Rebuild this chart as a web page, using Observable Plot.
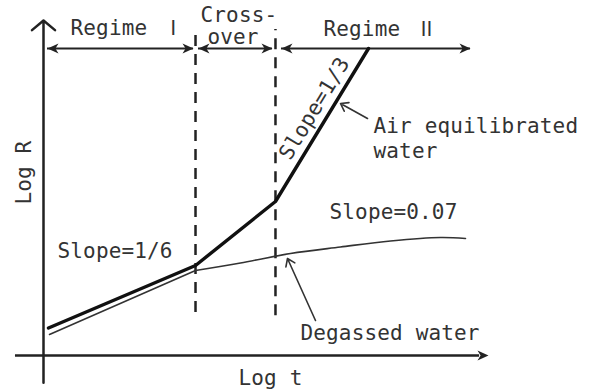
<!DOCTYPE html>
<html><head><meta charset="utf-8">
<script src="https://cdn.jsdelivr.net/npm/d3@7"></script>
<script src="https://cdn.jsdelivr.net/npm/@observablehq/plot@0.6"></script>
<style>html,body{margin:0;padding:0;background:#fff;}</style>
</head><body><div id="chart"></div>
<script>
// Air equilibrated water (log t, log R), arbitrary units 0..100
const airT = [1.12, 34.16, 52.13, 73.03];
const airR = [8.21, 26.87, 45.97, 91.64];
// Degassed water
const degT = [1.35, 34.16, 44.27, 55.51, 66.74, 77.98, 89.21, 94.83];
const degR = [6.27, 25.37, 27.61, 30.45, 32.39, 34.18, 35.22, 34.93];
// regime boundaries (dashed lines)
const boundaryT = [34.16, 52.13];
const boundaryBottom = [12.8, 11.9];
const boundaryTop = [97.9, 97.3];
// regime spans (double arrows)
const spanStart = [0.90, 34.83, 53.48];
const spanEnd = [33.71, 51.46, 95.96];
const spanR = 91.64;
// text labels
const labelText = ["Regime", "Cross-", "over", "Regime", "Air equilibrated", "water", "Slope=1/6", "Slope=0.07", "Degassed water"];
const labelT = [6.07, 35.28, 36.85, 62.92, 74.16, 74.16, 3.15, 64.27, 57.75];
const labelR = [95.82, 99.70, 93.13, 95.52, 66.27, 59.10, 28.96, 40.60, 4.48];
// regime numerals
const numeralText = ["Ⅰ", "Ⅱ"];
const numeralT = [29.2, 86.1];
const numeralR = [95.82, 95.52];
// leader arrows
const leaderTail = [[72.81, 70.75], [61.12, 10.45]];
const leaderTip = [[66.74, 75.22], [54.83, 28.96]];

const air = airT.map((t, i) => ({t, r: airR[i]}));
const deg = degT.map((t, i) => ({t, r: degR[i]}));
const degA = deg.slice(0, 2), degB = deg.slice(1);
const bounds = boundaryT.map((t, i) => ({t, y1: boundaryBottom[i], y2: boundaryTop[i]}));
const spans = spanStart.map((s, i) => ({x1: s, x2: spanEnd[i], y: spanR}));
const heads = spans.flatMap(d => [{t: d.x1, r: d.y, rot: -90}, {t: d.x2, r: d.y, rot: 90}]);
heads.push({t: 100, r: 0, rot: 90});
const labels = labelText.map((s, i) => ({s, t: labelT[i], r: labelR[i]}));
const numerals = numeralText.map((s, i) => ({s, t: numeralT[i], r: numeralR[i]}));
const leaders = leaderTail.map((a, i) => ({x1: a[0], y1: a[1], x2: leaderTip[i][0], y2: leaderTip[i][1]}));

const arrowSym = {
  draw(ctx, size) {
    const r = Math.sqrt(size / Math.PI);
    const L = 2 * r, w = 1.8 * r;
    ctx.moveTo(0, 0);
    ctx.lineTo(w / 2, L);
    ctx.lineTo(0, L * 0.72);
    ctx.lineTo(-w / 2, L);
    ctx.closePath();
  }
};

const font = {fontFamily: "DejaVu Sans Mono", fontSize: 21, fill: "#333"};

const chart = Plot.plot({
  width: 590, height: 390, margin: 0,
  style: {background: "#fff", letterSpacing: "0.15px"},
  x: {axis: null, domain: [0, 100], range: [43, 488]},
  y: {axis: null, domain: [0, 100], range: [355, 20]},
  marks: [
    // axes
    Plot.arrow([{x1: 0, y1: -8.1, x2: 0, y2: 100}], {x1: "x1", y1: "y1", x2: "x2", y2: "y2", stroke: "#222", strokeWidth: 2.5, headLength: 9, headAngle: 100}),
    Plot.ruleY([0], {x1: -6.3, x2: 98, stroke: "#222", strokeWidth: 2.5}),
    // regime boundaries
    Plot.ruleX(bounds, {x: "t", y1: "y1", y2: "y2", stroke: "#222", strokeWidth: 2.5, strokeDasharray: "11,8"}),
    // double arrows
    Plot.ruleY(spans, {x1: "x1", x2: "x2", y: "y", stroke: "#222", strokeWidth: 2}),
    Plot.dot(heads, {x: "t", y: "r", rotate: "rot", symbol: arrowSym, r: 5.5, fill: "#222", stroke: "none"}),
    // curves
    Plot.line(degA, {x: "t", y: "r", stroke: "#333", strokeWidth: 1.6}),
    Plot.line(degB, {x: "t", y: "r", stroke: "#333", strokeWidth: 1.6, curve: "catmull-rom"}),
    Plot.line(air, {x: "t", y: "r", stroke: "#111", strokeWidth: 3.4}),
    // leaders
    Plot.arrow(leaders, {x1: "x1", y1: "y1", x2: "x2", y2: "y2", stroke: "#333", strokeWidth: 1.6, headLength: 8, headAngle: 70}),
    // labels
    Plot.text(labels, {x: "t", y: "r", text: "s", textAnchor: "start", lineAnchor: "bottom", ...font}),
    Plot.text(numerals, {x: "t", y: "r", text: "s", textAnchor: "middle", lineAnchor: "bottom", ...font, fontFamily: "Noto Sans CJK JP", fontSize: 20}),
    Plot.text(["Slope=1/3"], {x: () => 60.9, y: () => 73.7, text: d => d, rotate: -58.7, textAnchor: "middle", lineAnchor: "middle", ...font}),
    Plot.text(["Log t"], {x: () => 51.0, y: () => -8.7, text: d => d, textAnchor: "middle", lineAnchor: "bottom", ...font}),
    Plot.text(["Log R"], {x: () => -2.7, y: () => 54.6, text: d => d, rotate: -90, textAnchor: "middle", lineAnchor: "bottom", ...font})
  ]
});
document.getElementById("chart").append(chart);
</script>
</body></html>
